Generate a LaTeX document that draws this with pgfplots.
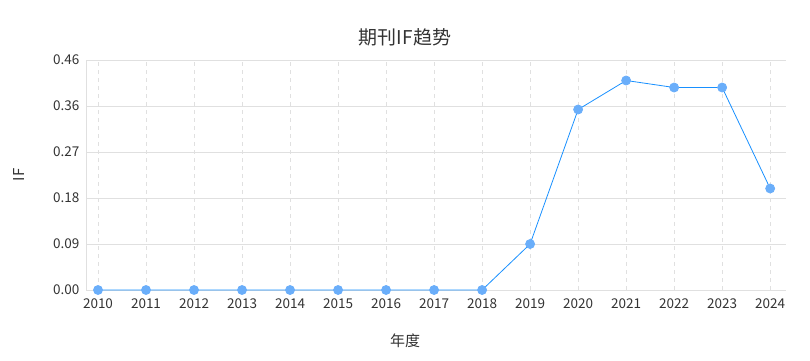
\documentclass[border=0pt]{standalone}
\usepackage{pgfplots}
\pgfplotsset{compat=1.18}
\usepackage{fontspec}
\setmainfont{Noto Sans CJK SC}
\definecolor{linec}{HTML}{1890FF}
\definecolor{markc}{HTML}{6AAEFA}
\definecolor{gridc}{HTML}{E0E0E0}
\definecolor{txt}{HTML}{333333}
\begin{document}
\begin{tikzpicture}[x=1pt,y=1pt]
\path[use as bounding box] (0,0) rectangle (810,360);
\begin{axis}[
  at={(86pt,70pt)}, anchor=south west,
  scale only axis, width=700pt, height=230pt,
  xmin=2009.75, xmax=2024.33, ymin=0, ymax=0.46,
  xtick={2010,...,2024},
  ytick={0,0.092,0.184,0.276,0.368,0.46},
  yticklabels={0.00,0.09,0.18,0.27,0.36,0.46},
  /pgf/number format/assume math mode=true,
  tick label style={font=\fontsize{13.5}{15}\selectfont, text=txt},
  xticklabel style={yshift=-5pt},
  yticklabel style={xshift=-3pt},
  xticklabels={2010,2011,2012,2013,2014,2015,2016,2017,2018,2019,2020,2021,2022,2023,2024},
  major tick length=0pt,
  axis line style={draw=gridc},
  axis x line*=bottom, axis y line*=left,
  xmajorgrids, ymajorgrids,
  x grid style={gridc, dashed, dash pattern=on 4pt off 4pt},
  y grid style={gridc},
  clip=false,
  title={期刊IF趋势},
  title style={font=\fontsize{19}{21}\selectfont, text=txt, at={(0.5,1)}, yshift=4pt, xshift=-31pt},
  xlabel={年度}, ylabel={IF},
  xlabel style={font=\fontsize{15}{17}\selectfont, text=txt, yshift=-18pt, xshift=-31pt},
  ylabel style={font=\fontsize{15}{17}\selectfont, text=txt, yshift=22pt},
]
\addplot[linec, line width=0.8pt, mark=*, mark size=4.5pt,
  mark options={solid, draw=markc, fill=markc}]
coordinates {
(2010,0)(2011,0)(2012,0)(2013,0)(2014,0)(2015,0)(2016,0)(2017,0)(2018,0)
(2019,0.092)(2020,0.361)(2021,0.419)(2022,0.405)(2023,0.405)(2024,0.203)
};
\end{axis}
\end{tikzpicture}
\end{document}
